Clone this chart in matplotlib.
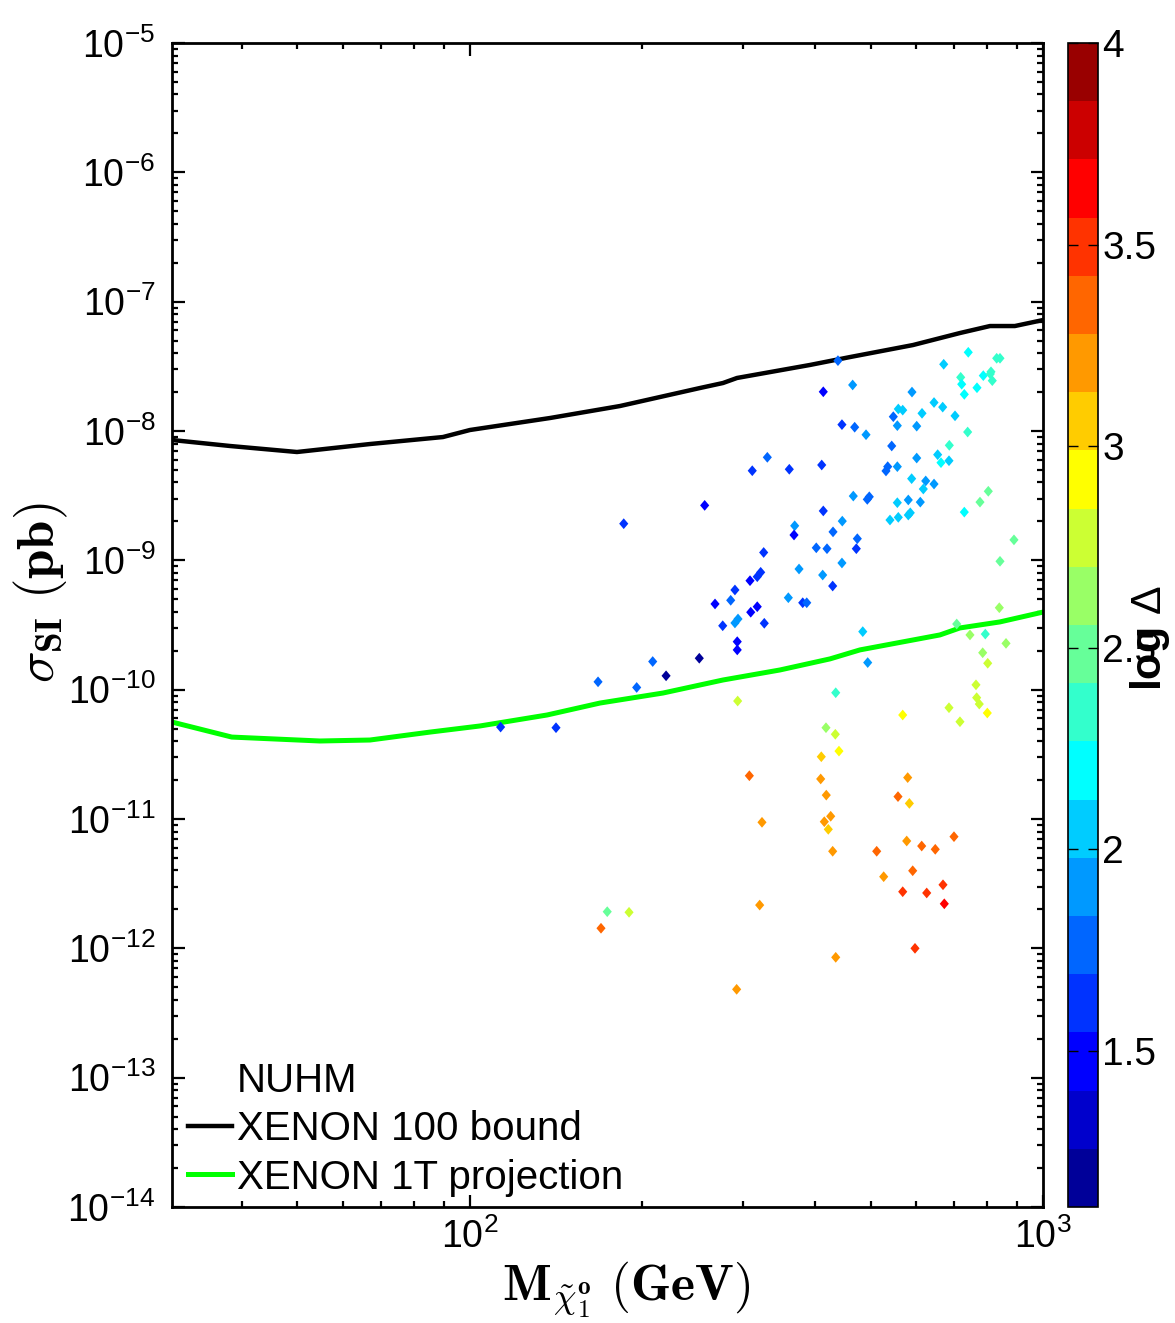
import matplotlib
matplotlib.use("Agg")
import matplotlib.pyplot as plt
from matplotlib.colors import ListedColormap, Normalize
from matplotlib.lines import Line2D
from matplotlib.ticker import LogLocator, NullFormatter

plt.rcParams['font.family'] = ['Liberation Sans', 'DejaVu Sans']
plt.rcParams['mathtext.fontset'] = 'custom'
plt.rcParams['mathtext.rm'] = 'Liberation Sans'
plt.rcParams['mathtext.it'] = 'Liberation Sans:italic'
plt.rcParams['mathtext.bf'] = 'Liberation Sans:bold'

# ---- exclusion curves ----
xenon100_mass = [30.2, 38.1, 49.9, 66.9, 89.7, 100, 137.9, 182.7, 252, 276.4,
                 292.4, 392, 460.4, 593, 716, 808, 893, 1000]
xenon100_sigma = [8.52e-9, 7.66e-9, 6.88e-9, 7.93e-9, 8.98e-9, 1.018e-8, 1.26e-8,
                  1.56e-8, 2.15e-8, 2.35e-8, 2.57e-8, 3.24e-8, 3.73e-8, 4.62e-8,
                  5.72e-8, 6.48e-8, 6.48e-8, 7.21e-8]

xenon1t_mass = [30.2, 38.4, 54.7, 66.9, 85.2, 104.1, 136.3, 168.6, 217.2, 276.4,
                347.5, 425, 479.3, 661, 716, 841, 1000]
xenon1t_sigma = [5.62e-11, 4.30e-11, 4.01e-11, 4.08e-11, 4.70e-11, 5.24e-11,
                 6.37e-11, 7.88e-11, 9.42e-11, 1.188e-10, 1.42e-10, 1.73e-10,
                 2.03e-10, 2.65e-10, 3.0e-10, 3.34e-10, 3.98e-10]

# ---- NUHM scan points: neutralino mass (GeV), sigma_SI (pb), log Delta ----
mass = [113.1, 141.3, 167.3, 195.4, 219.9, 208.4, 251.3, 292.7, 292.7, 276.1,
        267.7, 290.0, 293.6, 285.1, 290.0, 308.1, 317.2, 321.6, 309.0, 317.2,
        326.3, 359.4, 375.2, 380.8, 387.0, 412.6, 330.3, 310.9, 360.8, 256.8,
        185.5, 368.7, 367.7, 325.5, 438.7, 413.6, 465.4, 445.8, 469.2, 491.1,
        411.0, 413.6, 466.6, 493.6, 497.6, 446.4, 430.1, 402.1, 419.8, 474.2,
        472.3, 445.8, 429.5, 544.5, 548.0, 559.1, 569.1, 556.9, 590.7, 602.0,
        615.0, 535.8, 532.1, 556.9, 602.0, 589.9, 624.2, 618.2, 645.4, 556.9,
        582.0, 610.8, 540.7, 559.1, 582.0, 586.7, 645.4, 668.3, 671.0, 702.2,
        654.9, 663.7, 685.4, 686.3, 740.6, 718.4, 721.3, 728.9, 786.7, 767.0,
        811.4, 809.1, 815.6, 830.2, 841.3, 738.8, 728.9, 776.3, 802.7, 889.9,
        841.3, 484.7, 494.4, 434.8, 293.2, 707.0, 745.7, 793.1, 839.0, 861.9,
        784.8, 800.8, 763.9, 766.0, 774.1, 685.4, 716.3, 799.5, 569.1, 418.1,
        434.1, 440.5, 410.3, 409.3, 307.3, 580.6, 418.6, 426.1, 415.3, 422.0,
        429.5, 323.3, 558.4, 584.5, 578.3, 614.2, 648.6, 699.3, 512.6, 527.2,
        592.4, 569.1, 626.7, 669.1, 672.6, 597.9, 434.8, 292.0, 320.3, 173.6,
        189.5, 169.3]

sigma_si = [5.14e-11, 5.08e-11, 1.15e-10, 1.04e-10, 1.28e-10, 1.65e-10, 1.75e-10,
            2.03e-10, 2.35e-10, 3.12e-10, 4.60e-10, 3.28e-10, 3.52e-10, 4.91e-10,
            5.90e-10, 6.96e-10, 7.47e-10, 8.08e-10, 3.97e-10, 4.38e-10, 3.26e-10,
            5.14e-10, 8.57e-10, 4.70e-10, 4.70e-10, 7.70e-10, 6.26e-9, 4.93e-9,
            5.06e-9, 2.66e-9, 1.92e-9, 1.85e-9, 1.57e-9, 1.15e-9, 3.50e-8, 2.01e-8,
            2.27e-8, 1.12e-8, 1.07e-8, 9.36e-9, 5.46e-9, 2.41e-9, 3.14e-9, 2.96e-9,
            3.10e-9, 2.01e-9, 1.66e-9, 1.25e-9, 1.23e-9, 1.47e-9, 1.23e-9, 9.54e-10,
            6.33e-10, 7.66e-9, 1.29e-8, 1.48e-8, 1.45e-8, 1.10e-8, 2.00e-8, 1.09e-8,
            1.37e-8, 5.30e-9, 4.91e-9, 5.30e-9, 6.18e-9, 4.28e-9, 4.11e-9, 3.56e-9,
            3.89e-9, 2.79e-9, 2.93e-9, 2.82e-9, 2.05e-9, 2.15e-9, 2.24e-9, 2.33e-9,
            1.66e-8, 1.53e-8, 3.28e-8, 1.31e-8, 6.56e-9, 5.69e-9, 5.89e-9, 7.75e-9,
            4.06e-8, 2.60e-8, 2.30e-8, 1.92e-8, 2.68e-8, 2.16e-8, 2.87e-8, 2.76e-8,
            2.45e-8, 3.65e-8, 3.65e-8, 9.82e-9, 2.36e-9, 2.82e-9, 3.42e-9, 1.44e-9,
            9.83e-10, 2.81e-10, 1.62e-10, 9.47e-11, 8.17e-11, 3.22e-10, 2.65e-10,
            2.69e-10, 4.30e-10, 2.28e-10, 1.93e-10, 1.60e-10, 1.09e-10, 8.67e-11,
            7.74e-11, 7.25e-11, 5.65e-11, 6.60e-11, 6.37e-11, 5.08e-11, 4.52e-11,
            3.35e-11, 3.03e-11, 2.04e-11, 2.16e-11, 2.09e-11, 1.53e-11, 1.05e-11,
            9.53e-12, 8.32e-12, 5.63e-12, 9.43e-12, 1.49e-11, 1.32e-11, 6.76e-12,
            6.18e-12, 5.83e-12, 7.30e-12, 5.63e-12, 3.58e-12, 3.98e-12, 2.74e-12,
            2.68e-12, 3.10e-12, 2.21e-12, 1.00e-12, 8.52e-13, 4.82e-13, 2.16e-12,
            1.92e-12, 1.90e-12, 1.43e-12]

log_delta = [1.62, 1.62, 1.76, 1.76, 1.18, 1.76, 1.18, 1.47, 1.47, 1.62,
             1.47, 1.91, 1.91, 1.76, 1.62, 1.47, 1.62, 1.62, 1.47, 1.47,
             1.62, 1.91, 1.91, 1.62, 1.76, 1.91, 1.76, 1.62, 1.62, 1.47,
             1.62, 1.91, 1.47, 1.62, 1.76, 1.47, 1.91, 1.62, 1.76, 1.91,
             1.62, 1.62, 1.91, 1.76, 1.76, 1.91, 1.76, 1.76, 1.76, 1.76,
             1.62, 1.91, 1.62, 1.76, 1.76, 2.05, 2.05, 1.91, 1.91, 1.91,
             2.05, 1.76, 1.76, 1.91, 1.91, 2.05, 1.91, 2.05, 1.91, 2.05,
             1.91, 1.91, 2.05, 2.05, 2.05, 2.05, 2.05, 2.05, 2.05, 2.05,
             2.05, 2.20, 2.05, 2.34, 2.20, 2.34, 2.20, 2.20, 2.20, 2.20,
             2.34, 2.34, 2.34, 2.34, 2.34, 2.34, 2.20, 2.48, 2.48, 2.48,
             2.48, 2.05, 1.91, 2.34, 2.77, 2.48, 2.63, 2.34, 2.63, 2.63,
             2.63, 2.77, 2.77, 2.77, 2.77, 2.77, 2.77, 2.92, 2.92, 2.63,
             2.77, 2.92, 3.06, 3.21, 3.35, 3.21, 3.21, 3.21, 3.21, 3.06,
             3.21, 3.21, 3.35, 3.06, 3.21, 3.35, 3.35, 3.35, 3.35, 3.21,
             3.35, 3.50, 3.50, 3.50, 3.64, 3.50, 3.21, 3.21, 3.21, 2.48,
             2.77, 3.35]

# ---- 20-level jet palette ----
jet20 = [(0, 0, 0.6), (0, 0, 0.8), (0, 0, 1), (0, 0.2, 1), (0, 0.4, 1),
         (0, 0.6, 1), (0, 0.8, 1), (0, 1, 1), (0.2, 1, 0.8), (0.4, 1, 0.6),
         (0.6, 1, 0.4), (0.8, 1, 0.2), (1, 1, 0), (1, 0.8, 0), (1, 0.6, 0),
         (1, 0.4, 0), (1, 0.2, 0), (1, 0, 0), (0.8, 0, 0), (0.6, 0, 0)]
cmap = ListedColormap(jet20)
norm = Normalize(vmin=1.112, vmax=4.0)

W, H = 1175, 1323
fig = plt.figure(figsize=(W / 100, H / 100), dpi=100)
ax = fig.add_axes([172 / W, 1 - 1207 / H, 871 / W, 1164 / H])

ax.plot(xenon100_mass, xenon100_sigma, color='black', lw=3.2, solid_joinstyle='round', zorder=2)
ax.plot(xenon1t_mass, xenon1t_sigma, color=(0, 1, 0), lw=3.6, solid_joinstyle='round', zorder=2)

diamond = [(0, 1), (0.85, 0), (0, -1), (-0.85, 0), (0, 1)]
sc = ax.scatter(mass, sigma_si, c=log_delta, cmap=cmap, norm=norm,
                marker=diamond, s=60, linewidths=0, zorder=3)

ax.set_xscale('log')
ax.set_yscale('log')
ax.set_xlim(30.2, 1000)
ax.set_ylim(1e-14, 1e-5)
ax.yaxis.set_major_locator(LogLocator(base=10, numticks=20))
ax.yaxis.set_minor_locator(LogLocator(base=10, subs=range(2, 10), numticks=100))
ax.xaxis.set_minor_locator(LogLocator(base=10, subs=range(2, 10), numticks=100))
ax.xaxis.set_minor_formatter(NullFormatter())
ax.yaxis.set_minor_formatter(NullFormatter())

for s in ax.spines.values():
    s.set_linewidth(2.0)
ax.tick_params(which='both', direction='in', top=True, right=True, width=1.6)
ax.tick_params(which='major', length=9, labelsize=27)
ax.tick_params(which='minor', length=4.5)
ax.tick_params(axis='y', which='major', pad=12)
ax.tick_params(axis='x', which='major', pad=8)

ax.set_xlabel(r'$\mathbf{M}_{\tilde{\chi}^{\mathbf{o}}_{\mathbf{1}}}\ (\mathbf{GeV})$',
              fontsize=37, math_fontfamily='cm')
ax.xaxis.set_label_coords(0.521, -0.045)
ax.set_ylabel(r'$\sigma_{\mathbf{SI}}\ (\mathbf{pb})$',
              fontsize=38, math_fontfamily='cm')
ax.yaxis.set_label_coords(-0.117, 0.528)

handles = [Line2D([], [], linestyle='none'),
           Line2D([], [], color='black', lw=3.2),
           Line2D([], [], color=(0, 1, 0), lw=3.6)]
labels = ['NUHM', 'XENON 100 bound', 'XENON 1T projection']
ax.legend(handles, labels, loc='lower left', bbox_to_anchor=(0.018, 0.009),
          frameon=False, fontsize=29, handlelength=1.1, handletextpad=0.12,
          labelspacing=0.26, borderaxespad=0, borderpad=0)

# ---- colour bar ----
cax = fig.add_axes([1068 / W, 1 - 1207 / H, 30 / W, 1164 / H])
cb = fig.colorbar(sc, cax=cax)
cb.set_ticks([1.5, 2, 2.5, 3, 3.5, 4])
cb.set_ticklabels(['1.5', '2', '2.5', '3', '3.5', '4'])
cb.outline.set_linewidth(1.2)
cax.tick_params(direction='in', left=True, right=True, length=7, width=1,
                labelsize=28, pad=3)
fig.text(1150 / W, 1 - 638 / H, r'$\mathbf{log}\ \Delta$', rotation=90,
         fontsize=31, ha='center', va='center')

fig.savefig('out.png', dpi=100)
